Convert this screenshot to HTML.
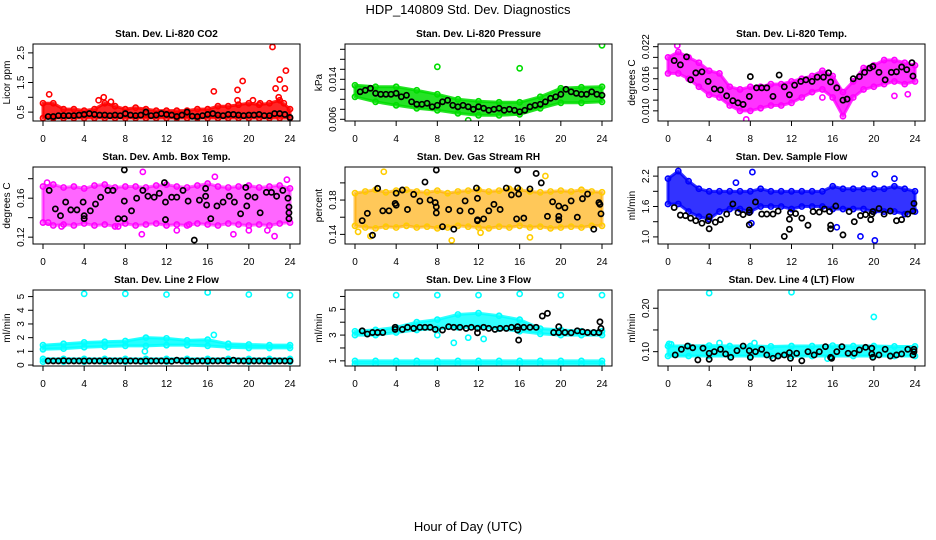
<!DOCTYPE html>
<html><head><meta charset="utf-8">
<style>
html,body{margin:0;padding:0;background:#fff;}
svg{display:block;font-family:"Liberation Sans",Arial,sans-serif;}
</style></head>
<body>
<svg id="chart" width="936" height="540" viewBox="0 0 936 540" xmlns="http://www.w3.org/2000/svg">
<text x="468" y="14" text-anchor="middle" font-size="13">HDP_140809  Std. Dev. Diagnostics</text>
<text x="468" y="531" text-anchor="middle" font-size="13">Hour of Day (UTC)</text>
</svg>
<script>
const H25=[0,1,2,3,4,5,6,7,8,9,10,11,12,13,14,15,16,17,18,19,20,21,22,23,24];
const H13=[0,2,4,6,8,10,12,14,16,18,20,22,24];
const XTICKS=[0,4,8,12,16,20,24];

// Panel 1 CO2
const co2Lo=[0.3,0.3,0.3,0.3,0.3,0.3,0.3,0.3,0.3,0.3,0.3,0.3,0.3,0.3,0.3,0.3,0.3,0.3,0.3,0.3,0.3,0.3,0.3,0.3,0.3];
const co2Hi=[0.8,0.8,0.6,0.6,0.55,0.6,0.8,0.7,0.6,0.65,0.6,0.55,0.55,0.55,0.55,0.6,0.6,0.7,0.7,0.75,0.8,0.75,0.8,0.9,0.6];
const co2OutX=[0.6,5.4,5.9,6.6,16.6,18.9,18.9,19.4,20.4,21.1,22.3,22.6,22.9,23.0,23.5,23.6,23.4];
const co2OutY=[1.1,0.9,1.0,0.85,1.2,1.25,0.9,1.55,0.9,0.8,2.7,1.3,1.0,1.6,1.3,1.9,0.8];
const co2BlkX=[0.5,1,1.5,2,2.5,3,3.5,4,4.5,5,5.5,6,6.5,7,7.5,8,8.5,9,9.5,10,10.5,11,11.5,12,12.5,13,13.5,14,14.5,15,15.5,16,16.5,17,17.5,18,18.5,19,19.5,20,20.5,21,21.5,22,22.5,23,23.5,24];
const co2BlkY=[0.35,0.35,0.38,0.38,0.38,0.38,0.4,0.42,0.45,0.42,0.4,0.4,0.38,0.4,0.38,0.45,0.4,0.38,0.4,0.5,0.38,0.4,0.45,0.42,0.4,0.35,0.4,0.5,0.36,0.35,0.38,0.42,0.45,0.4,0.38,0.42,0.42,0.4,0.38,0.4,0.4,0.42,0.38,0.38,0.45,0.45,0.42,0.32];

// Panel 2 pressure
const prLo=[0.0105,0.0095,0.0088,0.0082,0.0078,0.0072,0.0068,0.0068,0.0070,0.0082,0.0093,0.0093,0.0095];
const prHi=[0.0128,0.0125,0.0125,0.0118,0.0110,0.0100,0.0096,0.0094,0.0094,0.0105,0.0122,0.0124,0.0125];
const prOutX=[8,16,24,11];
const prOutY=[0.0165,0.0162,0.0208,0.0058];
const prBlkX=co2BlkX;
const prBlkY=[0.0115,0.0118,0.0122,0.0112,0.011,0.011,0.011,0.0112,0.0105,0.0108,0.0095,0.009,0.009,0.0092,0.0085,0.0088,0.0095,0.0098,0.0088,0.0085,0.0088,0.0085,0.008,0.0085,0.0082,0.0078,0.008,0.0082,0.0078,0.008,0.0078,0.0075,0.0078,0.0085,0.0088,0.009,0.0095,0.0102,0.0105,0.011,0.012,0.0115,0.0112,0.011,0.011,0.0115,0.011,0.0108];

// Panel 3 Li temp
const ltLo=[0.017,0.017,0.016,0.0145,0.013,0.0125,0.011,0.010,0.010,0.0105,0.011,0.011,0.0115,0.0125,0.0135,0.014,0.0125,0.009,0.0125,0.014,0.0145,0.015,0.0155,0.015,0.0155];
const ltHi=[0.020,0.021,0.020,0.019,0.0175,0.017,0.0145,0.014,0.0145,0.0145,0.015,0.015,0.0155,0.016,0.0165,0.0175,0.0165,0.0135,0.0155,0.018,0.0185,0.0195,0.0195,0.019,0.0185];
const ltOutX=[0.9,7.6,15.0,22.0,23.3];
const ltOutY=[0.0222,0.0084,0.0125,0.0128,0.0131];
const ltBlkX=[0.6,1.2,1.8,2.2,2.7,3.3,3.9,4.5,5.1,5.7,6.3,6.8,7.3,7.9,8.0,8.6,9.1,9.6,10.2,10.8,11.3,11.8,12.3,12.9,13.4,14.0,14.5,15.1,15.6,15.8,16.4,17.0,17.4,18.0,18.6,19.1,19.6,19.9,20.5,21.1,21.7,22.2,22.7,23.2,23.7,23.8];
const ltBlkY=[0.0194,0.0186,0.0201,0.0158,0.0171,0.0173,0.0155,0.0141,0.0139,0.0128,0.0119,0.0115,0.0112,0.0127,0.0164,0.0143,0.0143,0.0143,0.0127,0.0167,0.0145,0.013,0.0148,0.0155,0.0158,0.0155,0.0163,0.0163,0.0171,0.0154,0.0143,0.012,0.0122,0.016,0.0164,0.0172,0.018,0.0183,0.0172,0.0158,0.0172,0.0173,0.0182,0.0177,0.019,0.0165];

// Panel 4 amb box temp
const abLo=[0.135,0.132,0.133,0.132,0.134,0.132,0.133,0.131,0.134,0.132,0.133,0.134,0.132,0.133,0.132,0.134,0.133,0.132,0.134,0.133,0.132,0.133,0.132,0.134,0.135];
const abHi=[0.172,0.174,0.171,0.172,0.170,0.173,0.174,0.171,0.172,0.172,0.171,0.173,0.174,0.172,0.171,0.173,0.175,0.172,0.171,0.172,0.173,0.171,0.172,0.173,0.170];
const abOutX=[9.7,16.7,0.4,22.5,9.6,18.5,20,21.8,1.8,7.3,23.7,13,14.2,0.5];
const abOutY=[0.187,0.182,0.176,0.121,0.123,0.123,0.127,0.127,0.131,0.131,0.179,0.127,0.133,0.135];
const abBlkX=[0.6,1.2,1.7,2.2,2.7,3.3,3.9,4.0,4.0,4.6,5.1,5.6,6.3,6.8,7.3,7.9,7.9,7.9,8.6,9.1,9.7,10.2,10.8,11.3,11.8,11.9,11.9,12.5,13.0,13.6,14.1,14.7,15.2,15.8,15.8,15.9,16.3,16.9,17.5,18.1,18.6,19.2,19.7,19.8,19.9,20.6,21.1,21.7,22.2,22.7,23.3,23.8,23.9,23.9,23.9];
const abBlkY=[0.168,0.149,0.142,0.156,0.148,0.148,0.156,0.139,0.142,0.147,0.154,0.161,0.168,0.168,0.139,0.157,0.139,0.189,0.147,0.16,0.168,0.162,0.161,0.165,0.176,0.156,0.138,0.161,0.161,0.168,0.157,0.117,0.158,0.17,0.162,0.153,0.139,0.152,0.156,0.162,0.156,0.144,0.171,0.152,0.162,0.161,0.145,0.166,0.166,0.162,0.168,0.16,0.151,0.145,0.139];

// Panel 5 gas stream RH
const rhLo=[0.150,0.148,0.147,0.149,0.148,0.150,0.148,0.149,0.147,0.148,0.150,0.149,0.148,0.147,0.149,0.148,0.150,0.148,0.149,0.147,0.148,0.149,0.148,0.150,0.150];
const rhHi=[0.188,0.190,0.192,0.189,0.191,0.192,0.190,0.189,0.191,0.188,0.190,0.191,0.192,0.190,0.191,0.193,0.192,0.190,0.189,0.190,0.191,0.190,0.192,0.190,0.189];
const rhOutX=[2.8,9.4,17.0,0.3,1.5,18.5,12.2];
const rhOutY=[0.213,0.133,0.1365,0.143,0.138,0.208,0.142];
const rhBlkX=[0.7,1.2,1.7,2.2,2.7,3.3,3.9,4.0,4.0,4.6,5.1,5.7,6.3,6.8,7.3,7.8,7.9,7.9,7.9,8.5,9.1,9.6,10.2,10.7,11.3,11.8,11.9,11.9,11.9,12.5,13.0,13.5,14.1,14.7,15.2,15.7,15.8,15.8,15.9,16.4,17.0,17.6,18.1,18.7,19.2,19.8,19.8,19.8,20.4,21.0,21.6,22.1,22.6,23.2,23.7,23.8,23.9];
const rhBlkY=[0.156,0.1645,0.139,0.1936,0.1675,0.1675,0.176,0.174,0.188,0.1917,0.169,0.1866,0.1788,0.201,0.18,0.177,0.215,0.165,0.172,0.149,0.169,0.146,0.1675,0.179,0.167,0.194,0.182,0.156,0.157,0.158,0.1675,0.175,0.169,0.194,0.186,0.158,0.215,0.194,0.187,0.159,0.193,0.211,0.2,0.161,0.178,0.173,0.161,0.157,0.171,0.179,0.16,0.1815,0.187,0.146,0.177,0.175,0.164];

// Panel 6 sample flow
const sfLo=[1.65,1.65,1.5,1.4,1.35,1.5,1.55,1.55,1.5,1.6,1.6,1.6,1.55,1.6,1.6,1.6,1.55,1.55,1.55,1.55,1.5,1.5,1.5,1.45,1.5];
const sfHi=[2.15,2.3,2.1,1.95,1.9,1.9,1.9,1.9,1.9,1.95,1.9,1.9,1.9,1.9,1.9,1.9,2.0,1.95,1.95,1.95,1.95,1.95,2.0,1.95,1.9];
const sfOutX=[8.2,6.6,20.1,18.7,20.1,16.4,8.1,22.0];
const sfOutY=[2.28,2.07,2.24,1.01,0.93,1.19,1.27,2.15];
const sfBlkX=[0.6,1.2,1.7,2.2,2.7,3.3,3.9,4.0,4.0,4.6,5.1,5.7,6.3,6.8,7.3,7.9,7.9,7.9,8.5,9.1,9.6,10.2,10.7,11.3,11.8,11.8,11.9,12.4,13.0,13.6,14.1,14.7,15.2,15.7,15.8,15.8,16.3,17.0,17.6,18.1,18.7,19.2,19.7,19.8,19.9,20.5,21.0,21.6,22.2,22.7,23.3,23.8,23.9];
const sfBlkY=[1.58,1.43,1.42,1.37,1.32,1.27,1.32,1.16,1.4,1.29,1.34,1.45,1.65,1.48,1.44,1.24,1.48,1.53,1.69,1.45,1.45,1.45,1.51,1.01,1.15,1.35,1.48,1.46,1.37,1.23,1.5,1.49,1.55,1.5,1.23,1.16,1.61,1.04,1.5,1.3,1.42,1.44,1.34,1.45,1.5,1.56,1.45,1.51,1.32,1.34,1.45,1.51,1.66];

// Panel 7 line 2 flow
const l2Lo=[1.15,1.2,1.3,1.35,1.4,1.4,1.45,1.45,1.4,1.3,1.25,1.25,1.25];
const l2Hi=[1.45,1.55,1.65,1.7,1.75,2.0,1.95,1.8,1.85,1.55,1.5,1.45,1.45];
const l2BaseLo=[0.25,0.25,0.25,0.25,0.25,0.25,0.25,0.25,0.25,0.25,0.25,0.25,0.25];
const l2BaseHi=[0.45,0.45,0.45,0.45,0.45,0.45,0.45,0.45,0.45,0.45,0.45,0.45,0.45];
const l2OutX=[4,8,12,16,20,24,9.9,16.6];
const l2OutY=[5.2,5.2,5.15,5.3,5.15,5.1,1.0,2.2];
const l2BlkX=co2BlkX;
const l2BlkY=[0.3,0.3,0.3,0.32,0.3,0.3,0.3,0.3,0.3,0.3,0.3,0.31,0.3,0.3,0.3,0.3,0.3,0.3,0.28,0.3,0.3,0.3,0.3,0.3,0.28,0.35,0.3,0.32,0.28,0.3,0.3,0.3,0.3,0.3,0.32,0.3,0.35,0.3,0.3,0.3,0.3,0.3,0.3,0.3,0.3,0.3,0.3,0.3];

// Panel 8 line 3 flow
const l3Lo=[3.0,3.0,3.2,3.4,3.5,3.6,3.6,3.5,3.3,3.1,3.0,3.0,3.0];
const l3Hi=[3.3,3.4,3.6,4.0,4.2,4.6,4.7,4.5,4.2,3.5,3.4,3.3,3.3];
const l3BaseLo=[0.75,0.75,0.75,0.75,0.75,0.75,0.75,0.75,0.75,0.75,0.75,0.75,0.75];
const l3BaseHi=[1.0,1.0,1.0,1.0,1.0,1.0,1.0,1.0,1.0,1.0,1.0,1.0,1.0];
const l3OutX=[4,8,12,16,20,24,8,9.6,12.5,11];
const l3OutY=[6.1,6.1,6.1,6.2,6.1,6.1,3.0,2.4,2.7,2.8];
const l3BlkX=[0.7,1.2,1.7,2.2,2.7,3.9,3.9,4.6,5.1,5.7,6.3,6.8,7.3,7.8,8.5,9.1,9.6,10.2,10.8,11.3,11.9,11.9,12.5,13.0,13.6,14.1,14.7,15.2,15.8,15.8,15.9,16.4,17.0,17.6,18.2,18.7,19.3,19.8,19.8,20.4,21.0,21.6,22.1,22.6,23.2,23.7,23.8,23.9];
const l3BlkY=[3.33,3.08,3.2,3.2,3.2,3.6,3.44,3.44,3.6,3.52,3.6,3.6,3.6,3.44,3.39,3.65,3.6,3.6,3.52,3.6,3.18,3.52,3.6,3.52,3.44,3.52,3.52,3.6,3.65,3.39,2.61,3.6,3.6,3.6,4.48,4.69,3.2,3.65,3.2,3.2,3.18,3.33,3.26,3.2,3.2,3.2,4.03,3.52];

// Panel 9 line 4 flow
const l4Lo=[0.09,0.09,0.09,0.09,0.09,0.09,0.09,0.09,0.09,0.09,0.09,0.09,0.09];
const l4Hi=[0.113,0.113,0.114,0.113,0.113,0.112,0.113,0.113,0.114,0.113,0.113,0.112,0.112];
const l4OutX=[4,12,20,0.1,15.5,5.0,8.4,0.3];
const l4OutY=[0.235,0.237,0.18,0.118,0.084,0.12,0.12,0.117];
const l4BlkX=[0.7,1.3,1.9,2.4,2.9,3.4,4.0,4.0,4.5,5.1,5.6,6.1,6.7,7.3,7.9,8.0,8.5,9.1,9.6,10.2,10.7,11.3,11.8,11.9,12.5,13.0,13.6,14.2,14.7,15.3,15.8,15.9,16.4,16.9,17.5,18.1,18.6,19.2,19.8,19.8,19.9,20.5,21.1,21.6,22.2,22.7,23.3,23.8,23.9,23.9];
const l4BlkY=[0.0924,0.1055,0.113,0.109,0.081,0.108,0.0963,0.0825,0.1,0.1055,0.0947,0.087,0.1023,0.113,0.1023,0.087,0.1,0.1055,0.0924,0.0848,0.09,0.0924,0.0977,0.0848,0.0963,0.079,0.1,0.0924,0.1,0.1115,0.087,0.0848,0.1,0.1115,0.0963,0.0963,0.104,0.11,0.108,0.0947,0.087,0.0924,0.1055,0.09,0.0924,0.0947,0.1055,0.0924,0.1055,0.1];

const COLS=[{l:33,r:300},{l:345,r:612},{l:658,r:925}];
const ROWS=[{t:44,b:121},{t:167,b:244},{t:290,b:366}];

const panels=[
 {name:'co2',c:0,r:0,title:'Stan. Dev. Li-820 CO2',yt:'Licor ppm',ylim:[0.2,2.8],ticks:[0.5,1,1.5,2,2.5],labels:[0.5,1.5,2.5],fmt:1,col:'#ff0000',op:0.85,bands:[[H25,co2Lo,co2Hi]],ox:co2OutX,oy:co2OutY,bx:co2BlkX,by:co2BlkY},
 {name:'pressure',c:1,r:0,title:'Stan. Dev. Li-820 Pressure',yt:'kPa',ylim:[0.00566,0.02106],ticks:[0.006,0.008,0.010,0.012,0.014,0.016,0.018,0.020],labels:[0.006,0.014],fmt:3,col:'#00dd00',op:0.85,bands:[[H13,prLo,prHi]],ox:prOutX,oy:prOutY,bx:prBlkX,by:prBlkY},
 {name:'li-temp',c:2,r:0,title:'Stan. Dev. Li-820 Temp.',yt:'degrees C',ylim:[0.0081,0.0225],ticks:[0.008,0.010,0.012,0.014,0.016,0.018,0.020,0.022],labels:[0.010,0.016,0.022],fmt:3,col:'#ff00ff',op:0.8,bands:[[H25,ltLo,ltHi]],ox:ltOutX,oy:ltOutY,bx:ltBlkX,by:ltBlkY},
 {name:'amb-box-temp',c:0,r:1,title:'Stan. Dev. Amb. Box Temp.',yt:'degrees C',ylim:[0.113,0.192],ticks:[0.12,0.14,0.16,0.18],labels:[0.12,0.16],fmt:2,col:'#ff00ff',op:0.6,bands:[[H25,abLo,abHi]],ox:abOutX,oy:abOutY,bx:abBlkX,by:abBlkY},
 {name:'gas-stream-rh',c:1,r:1,title:'Stan. Dev. Gas Stream RH',yt:'percent',ylim:[0.1288,0.2185],ticks:[0.14,0.16,0.18,0.20],labels:[0.14,0.18],fmt:2,col:'#ffaa00',ring:'#ffcc00',op:0.65,bands:[[H25,rhLo,rhHi]],ox:rhOutX,oy:rhOutY,bx:rhBlkX,by:rhBlkY},
 {name:'sample-flow',c:2,r:1,title:'Stan. Dev. Sample Flow',yt:'ml/min',ylim:[0.86,2.38],ticks:[1.0,1.3,1.6,1.9,2.2],labels:[1.0,1.6,2.2],fmt:1,col:'#0000ff',op:0.8,bands:[[H25,sfLo,sfHi]],ox:sfOutX,oy:sfOutY,bx:sfBlkX,by:sfBlkY},
 {name:'line2-flow',c:0,r:2,title:'Stan. Dev. Line 2 Flow',yt:'ml/min',ylim:[-0.07,5.48],ticks:[0,1,2,3,4,5],labels:[0,1,2,3,4,5],fmt:0,col:'#00ffff',op:0.85,bands:[[H13,l2Lo,l2Hi],[H13,l2BaseLo,l2BaseHi]],ox:l2OutX,oy:l2OutY,bx:l2BlkX,by:l2BlkY},
 {name:'line3-flow',c:1,r:2,title:'Stan. Dev. Line 3 Flow',yt:'ml/min',ylim:[0.6,6.5],ticks:[1,2,3,4,5,6],labels:[1,3,5],fmt:0,col:'#00ffff',op:0.8,bands:[[H13,l3Lo,l3Hi],[H13,l3BaseLo,l3BaseHi]],ox:l3OutX,oy:l3OutY,bx:l3BlkX,by:l3BlkY},
 {name:'line4-flow',c:2,r:2,title:'Stan. Dev. Line 4 (LT) Flow',yt:'ml/min',ylim:[0.067,0.242],ticks:[0.10,0.15,0.20],labels:[0.10,0.20],fmt:2,col:'#00ffff',op:0.85,bands:[[H13,l4Lo,l4Hi]],ox:l4OutX,oy:l4OutY,bx:l4BlkX,by:l4BlkY}
];

const NS='http://www.w3.org/2000/svg';
const svg=document.getElementById('chart');
function mk(tag,attrs,parent){const e=document.createElementNS(NS,tag);for(const k in attrs)e.setAttribute(k,attrs[k]);(parent||svg).appendChild(e);return e;}

panels.forEach(p=>{
  const C=COLS[p.c],R=ROWS[p.r];
  const g=mk('g',{});
  
  
  const xs=h=>C.l+10+(h/24)*(C.r-C.l-20);
  const ys=v=>R.b-(v-p.ylim[0])/(p.ylim[1]-p.ylim[0])*(R.b-R.t);
  const clip='clip-'+p.name;
  const cp=mk('clipPath',{id:clip},g);
  mk('rect',{x:C.l,y:R.t,width:C.r-C.l,height:R.b-R.t},cp);
  const plot=mk('g',{'clip-path':'url(#'+clip+')'},g);
  p.bands.forEach((b,bi)=>{
    const [hx,lo,hi]=b;
    let pts=[];
    for(let i=0;i<hx.length;i++)pts.push(xs(hx[i])+','+ys(hi[i]));
    for(let i=hx.length-1;i>=0;i--)pts.push(xs(hx[i])+','+ys(lo[i]));
    const poly=mk('polygon',{points:pts.join(' '),fill:p.col,'fill-opacity':p.op,stroke:p.col,'stroke-opacity':p.op,'stroke-width':3,'stroke-linejoin':'round'},plot);
    
    
    for(let i=0;i<hx.length;i++){
      [lo[i],hi[i]].forEach(v=>{
        const c=mk('circle',{cx:xs(hx[i]),cy:ys(v),r:2.6,fill:'none',stroke:p.ring||p.col,'stroke-width':1.6},plot);
        
        
      });
    }
  });
  p.ox.forEach((x,i)=>{
    const c=mk('circle',{cx:xs(x),cy:ys(p.oy[i]),r:2.6,fill:'none',stroke:p.ring||p.col,'stroke-width':1.6},plot);
    
    
  });
  p.bx.forEach((x,i)=>{
    const c=mk('circle',{cx:xs(x),cy:ys(p.by[i]),r:2.6,fill:'none',stroke:'#000','stroke-width':1.7},plot);
    
    
  });
  const box=mk('rect',{x:C.l,y:R.t,width:C.r-C.l,height:R.b-R.t,fill:'none',stroke:'#000','stroke-width':1},g);
  
  
  const t=mk('text',{x:(C.l+C.r)/2,y:R.t-7,'text-anchor':'middle','font-size':10,'font-weight':'bold'},g);
  t.textContent=p.title;
  
  
  mk('line',{x1:xs(0),x2:xs(24),y1:R.b,y2:R.b,stroke:'#000'},g);
  XTICKS.forEach(h=>{
    mk('line',{x1:xs(h),x2:xs(h),y1:R.b,y2:R.b+5,stroke:'#000'},g);
    const l=mk('text',{x:xs(h),y:R.b+21,'text-anchor':'middle','font-size':10},g);
    l.textContent=h;
    
    
  });
  const tv=p.ticks.filter(v=>v>=p.ylim[0]&&v<=p.ylim[1]);
  mk('line',{x1:C.l,x2:C.l,y1:ys(tv[0]),y2:ys(tv[tv.length-1]),stroke:'#000'},g);
  p.ticks.forEach(v=>{
    if(v<p.ylim[0]-1e-9||v>p.ylim[1])return;
    mk('line',{x1:C.l-5,x2:C.l,y1:ys(v),y2:ys(v),stroke:'#000'},g);
  });
  p.labels.forEach(v=>{
    const x=C.l-9,y=ys(v);
    const l=mk('text',{x:x,y:y,'text-anchor':'middle','font-size':10,transform:'rotate(-90 '+x+' '+y+')'},g);
    l.textContent=v.toFixed(p.fmt);
    
    
  });
  const yx=C.l-23,yy=(R.t+R.b)/2;
  const yl=mk('text',{x:yx,y:yy,'text-anchor':'middle','font-size':10,transform:'rotate(-90 '+yx+' '+yy+')'},g);
  yl.textContent=p.yt;
  
  
});
</script>
</body></html>
